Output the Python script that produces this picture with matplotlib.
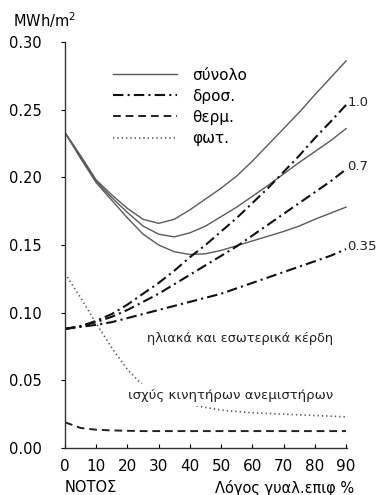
import matplotlib
matplotlib.use("Agg")
import matplotlib.pyplot as plt
from matplotlib.lines import Line2D

plt.rcParams['font.family'] = ['DejaVu Sans']

# glazing ratio (%) on the south facade
x = [0, 5, 10, 15, 20, 25, 30, 35, 40, 45, 50, 55, 60, 65, 70, 75, 80, 85, 90]

# total energy, for shading factors 1.0 / 0.7 / 0.35
total_10 = [0.233, 0.216, 0.198, 0.187, 0.177, 0.169, 0.166, 0.169, 0.176, 0.184,
            0.192, 0.201, 0.212, 0.224, 0.236, 0.248, 0.261, 0.2735, 0.286]
total_07 = [0.233, 0.215, 0.197, 0.185, 0.174, 0.164, 0.158, 0.156, 0.159, 0.164,
            0.171, 0.178, 0.186, 0.194, 0.2025, 0.211, 0.219, 0.227, 0.236]
total_035 = [0.233, 0.214, 0.196, 0.183, 0.170, 0.158, 0.150, 0.145, 0.143, 0.1435,
             0.146, 0.1495, 0.153, 0.1565, 0.160, 0.164, 0.169, 0.1735, 0.178]

# cooling energy
cool_10 = [0.088, 0.090, 0.094, 0.099, 0.106, 0.114, 0.122, 0.131, 0.141, 0.150,
           0.160, 0.170, 0.181, 0.192, 0.204, 0.216, 0.229, 0.241, 0.2535]
cool_07 = [0.088, 0.090, 0.093, 0.097, 0.102, 0.108, 0.114, 0.121, 0.128, 0.135,
           0.142, 0.149, 0.157, 0.165, 0.173, 0.181, 0.189, 0.197, 0.206]
cool_035 = [0.088, 0.0895, 0.091, 0.093, 0.096, 0.099, 0.102, 0.105, 0.108, 0.111,
            0.114, 0.118, 0.122, 0.126, 0.130, 0.134, 0.138, 0.142, 0.147]

# heating energy
heat = [0.019, 0.0148, 0.0135, 0.013, 0.0127, 0.0125, 0.0125, 0.0125, 0.0125, 0.0125,
        0.0125, 0.0125, 0.0125, 0.0125, 0.0125, 0.0125, 0.0125, 0.0125, 0.0125]

# lighting energy
light = [0.129, 0.111, 0.092, 0.074, 0.058, 0.046, 0.039, 0.035, 0.032, 0.030,
         0.028, 0.027, 0.026, 0.0255, 0.025, 0.0245, 0.024, 0.0235, 0.023]

shading_labels = ["1.0", "0.7", "0.35"]
legend_labels = ["σύνολο", "δροσ.", "θερμ.", "φωτ."]
yticks = [0.00, 0.05, 0.10, 0.15, 0.20, 0.25, 0.30]
xticks = [0, 10, 20, 30, 40, 50, 60, 70, 80, 90]

fig = plt.figure(figsize=(3.78, 4.95), dpi=100)
ax = fig.add_axes([65 / 378, 47 / 495, 282 / 378, 406 / 495])

solid_kw = dict(color="#5a5a5a", lw=1.0, ls="-")
dashdot_kw = dict(color="#111111", lw=1.5, ls=(0, (5, 2, 1, 2)))
dashed_kw = dict(color="#222222", lw=1.4, ls=(0, (4, 2.5)))
dotted_kw = dict(color="#555555", lw=1.2, ls=(0, (0.8, 1.8)))

for ys in (total_10, total_07, total_035):
    ax.plot(x, ys, **solid_kw)
for ys in (cool_10, cool_07, cool_035):
    ax.plot(x, ys, **dashdot_kw)
ax.plot(x, heat, **dashed_kw)
ax.plot(x, light, **dotted_kw)

# shading factor labels at the end of the cooling curves
for ys, lab in zip((cool_10, cool_07, cool_035), shading_labels):
    ax.text(x[-1] + 0.4, ys[-1] + 0.002, lab, fontsize=9.5, va="center",
            ha="left", clip_on=False, color="#222222")

ax.text(26.2, 0.081, "ηλιακά και εσωτερικά κέρδη", fontsize=9.3, va="center",
        ha="left", color="#222222")
ax.text(20.1, 0.039, "ισχύς κινητήρων ανεμιστήρων", fontsize=9.5, va="center",
        ha="left", color="#222222",
        bbox=dict(facecolor="white", edgecolor="none", pad=3.0))

handles = [Line2D([], [], **solid_kw), Line2D([], [], **dashdot_kw),
           Line2D([], [], **dashed_kw), Line2D([], [], **dotted_kw)]
ax.legend(handles, legend_labels, loc="upper left", bbox_to_anchor=(0.17, 0.937),
          frameon=False, fontsize=11, handlelength=4.2, handletextpad=1.0,
          labelspacing=0.4, borderpad=0, borderaxespad=0)

ax.set_xlim(0, 90.3)
ax.set_ylim(0, 0.30)
ax.set_xticks(xticks)
ax.set_yticks(yticks)
ax.set_yticklabels([f"{v:.2f}" for v in yticks], fontsize=10.5)
ax.set_xticklabels([str(v) for v in xticks], fontsize=11)
ax.tick_params(axis="x", direction="in", length=3, pad=8)
ax.tick_params(axis="y", direction="out", length=3, pad=14)
for side in ("top", "right"):
    ax.spines[side].set_visible(False)
for side in ("left", "bottom"):
    ax.spines[side].set_color("#333333")
    ax.spines[side].set_linewidth(1.0)

fig.text(13 / 378, 1 - 20 / 495, "MWh/m$^2$", fontsize=10.5, va="center", ha="left")
fig.text(91 / 378, 1 - 488 / 495, "ΝΟΤΟΣ", fontsize=10.5, va="center", ha="center")
fig.text(285 / 378, 1 - 488 / 495, "Λόγος γυαλ.επιφ %", fontsize=10.5,
         va="center", ha="center")

fig.savefig("out.png", dpi=100)
